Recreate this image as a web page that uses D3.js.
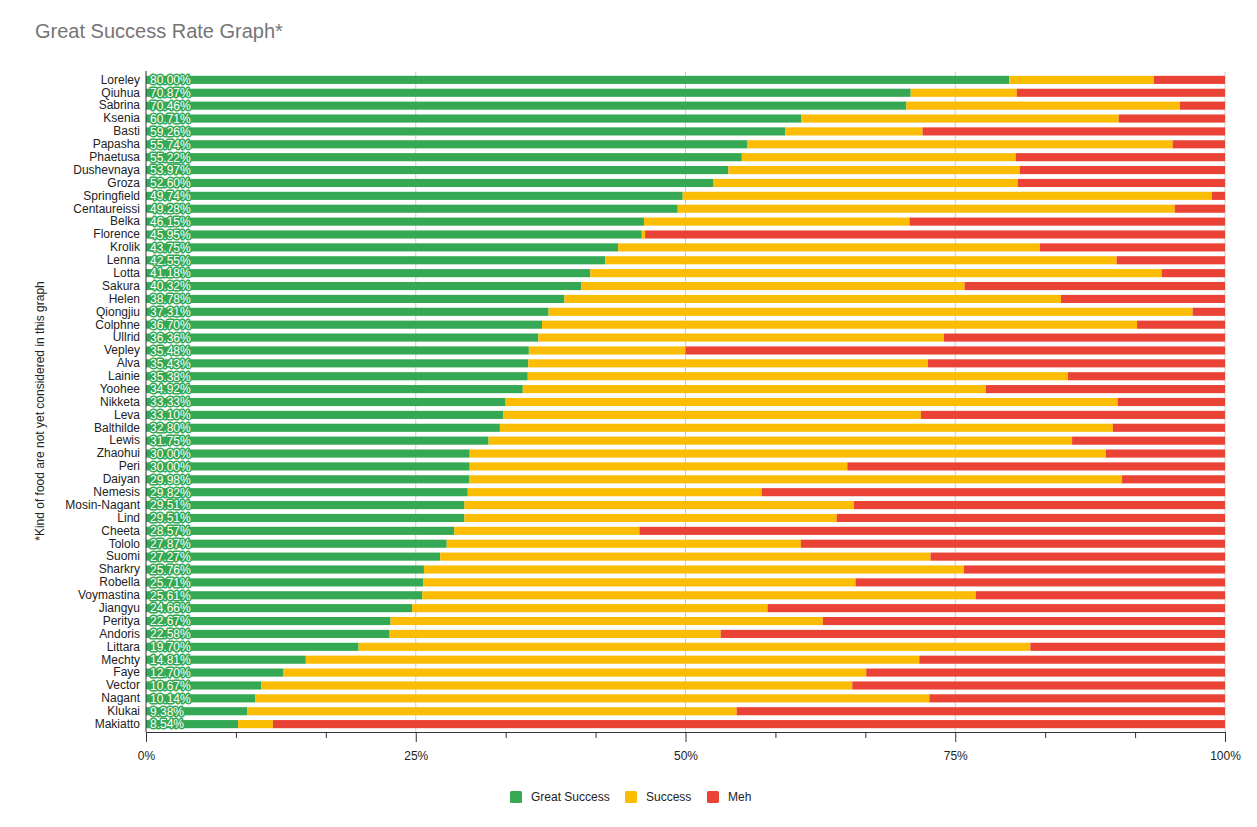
<!DOCTYPE html>
<html>
<head>
<meta charset="utf-8">
<script src="https://cdn.jsdelivr.net/npm/d3@7"></script>
<style>
  body { margin: 0; background: #fff; }
  svg { font-family: Arial, "Liberation Sans", sans-serif; }
  .axis path, .axis line { stroke: #333; }
  .axis text { fill: #222; font-size: 12px; }
</style>
</head>
<body>
<svg></svg>
<script>
// names, top to bottom
var names = ["Loreley", "Qiuhua", "Sabrina", "Ksenia", "Basti", "Papasha", "Phaetusa", "Dushevnaya",
	"Groza", "Springfield", "Centaureissi", "Belka", "Florence", "Krolik", "Lenna", "Lotta", "Sakura",
	"Helen", "Qiongjiu", "Colphne", "Ullrid", "Vepley", "Alva", "Lainie", "Yoohee", "Nikketa", "Leva",
	"Balthilde", "Lewis", "Zhaohui", "Peri", "Daiyan", "Nemesis", "Mosin-Nagant", "Lind", "Cheeta",
	"Tololo", "Suomi", "Sharkry", "Robella", "Voymastina", "Jiangyu", "Peritya", "Andoris", "Littara",
	"Mechty", "Faye", "Vector", "Nagant", "Klukai", "Makiatto"];

// percentages per series
var greatSuccess = [80.00, 70.87, 70.46, 60.71, 59.26, 55.74, 55.22, 53.97, 52.60, 49.74, 49.28, 46.15,
	45.95, 43.75, 42.55, 41.18, 40.32, 38.78, 37.31, 36.70, 36.36, 35.48, 35.43, 35.38, 34.92, 33.33,
	33.10, 32.80, 31.75, 30.00, 30.00, 29.98, 29.82, 29.51, 29.51, 28.57, 27.87, 27.27, 25.76, 25.71,
	25.61, 24.66, 22.67, 22.58, 19.70, 14.81, 12.70, 10.67, 10.14, 9.38, 8.54];
var success = [13.40, 9.83, 25.37, 29.44, 12.71, 39.41, 25.38, 27.01, 28.20, 49.05, 46.06, 24.61,
	0.30, 39.09, 47.41, 52.95, 35.55, 46.02, 59.69, 55.15, 37.60, 14.52, 37.04, 50.06, 42.91, 56.73,
	38.72, 56.81, 54.08, 58.97, 35.00, 60.48, 27.24, 36.10, 34.51, 17.16, 32.82, 45.44, 50.04, 40.05,
	51.28, 32.94, 40.06, 30.68, 62.26, 56.86, 54.05, 54.79, 62.46, 45.36, 3.22];
var meh = [6.60, 19.30, 4.17, 9.85, 28.03, 4.85, 19.40, 19.02, 19.20, 1.21, 4.66, 29.24,
	53.75, 17.16, 10.04, 5.87, 24.13, 15.20, 3.00, 8.15, 26.04, 50.00, 27.53, 14.56, 22.17, 9.94,
	28.18, 10.39, 14.17, 11.03, 35.00, 9.54, 42.94, 34.39, 35.98, 54.27, 39.31, 27.29, 24.20, 34.24,
	23.11, 42.40, 37.27, 46.74, 18.04, 28.33, 33.25, 34.54, 27.40, 45.26, 88.24];

var seriesNames = ["Great Success", "Success", "Meh"];
var seriesKeys = ["great", "success", "meh"];
var colors = ["#34a853", "#fbbc04", "#ea4335"];
var majorTicks = [0, 25, 50, 75, 100];
var minorTicks = [100 / 12, 200 / 12, 400 / 12, 500 / 12, 700 / 12, 800 / 12, 1000 / 12, 1100 / 12];

var svgWidth = 1257, svgHeight = 827;
var plotLeft = 146, plotRight = 1225, plotTop = 72, plotBottom = 732;

var svg = d3.select("svg")
	.attr("width", svgWidth)
	.attr("height", svgHeight);

var rows = names.map(function(n, i) {
	return { name: n, great: greatSuccess[i], success: success[i], meh: meh[i] };
});

var xScale = d3.scaleLinear()
	.domain([0, 100])
	.range([plotLeft, plotRight]);

var yScale = d3.scaleBand()
	.domain(names)
	.range([plotTop + 1.5, plotBottom - 1.5])
	.paddingInner(0.37)
	.paddingOuter(0.18);

// title
svg.append("text")
	.attr("x", 35)
	.attr("y", 38)
	.attr("font-size", 20)
	.attr("fill", "#757575")
	.text("Great Success Rate Graph*");

// gridlines
svg.append("g")
	.selectAll("line")
	.data(majorTicks.slice(1))
	.enter()
	.append("line")
	.attr("x1", function(d) { return xScale(d); })
	.attr("x2", function(d) { return xScale(d); })
	.attr("y1", plotTop)
	.attr("y2", plotBottom)
	.attr("stroke", "#cccccc")
	.attr("stroke-width", 1);

// stacked bars
var stack = d3.stack().keys(seriesKeys);
var layers = stack(rows);

svg.append("g")
	.selectAll("g")
	.data(layers)
	.enter()
	.append("g")
	.attr("fill", function(d, i) { return colors[i]; })
	.selectAll("rect")
	.data(function(d) { return d; })
	.enter()
	.append("rect")
	.attr("x", function(d) { return xScale(d[0]); })
	.attr("width", function(d) { return xScale(d[1]) - xScale(d[0]); })
	.attr("y", function(d) { return yScale(d.data.name); })
	.attr("height", yScale.bandwidth());

// data labels for great success
svg.append("g")
	.selectAll("text")
	.data(rows)
	.enter()
	.append("text")
	.attr("x", plotLeft + 4)
	.attr("y", function(d) { return yScale(d.name) + yScale.bandwidth() / 2; })
	.attr("dy", "0.36em")
	.attr("font-size", 12)
	.attr("fill", "#ffffff")
	.attr("stroke", colors[0])
	.attr("stroke-width", 3)
	.attr("stroke-linejoin", "round")
	.attr("paint-order", "stroke")
	.text(function(d) { return d.great.toFixed(2) + "%"; });

// x axis with major and minor ticks
svg.append("g")
	.attr("class", "axis")
	.attr("transform", "translate(0," + plotBottom + ")")
	.call(d3.axisBottom(xScale).tickValues(minorTicks).tickSize(6).tickFormat(""))
	.select(".domain").remove();

svg.append("g")
	.attr("class", "axis")
	.attr("transform", "translate(0," + plotBottom + ")")
	.call(d3.axisBottom(xScale)
		.tickValues(majorTicks)
		.tickSize(10)
		.tickSizeOuter(0)
		.tickPadding(9)
		.tickFormat(function(d) { return d + "%"; }));

// y axis
var yAxis = svg.append("g")
	.attr("class", "axis")
	.attr("transform", "translate(" + plotLeft + ",0)")
	.call(d3.axisLeft(yScale).tickSize(0).tickPadding(6));
yAxis.select(".domain")
	.attr("d", "M0," + (plotTop - 1) + "V" + plotBottom);

// y axis title
svg.append("text")
	.attr("transform", "translate(44,411) rotate(-90)")
	.attr("text-anchor", "middle")
	.attr("font-size", 12)
	.attr("fill", "#222")
	.text("*Kind of food are not yet considered in this graph");

// legend
var legendX = [510, 625, 707];
var legend = svg.append("g")
	.selectAll("g")
	.data(seriesNames)
	.enter()
	.append("g")
	.attr("transform", function(d, i) { return "translate(" + legendX[i] + ",791)"; });

legend.append("rect")
	.attr("width", 12)
	.attr("height", 12)
	.attr("rx", 1.5)
	.attr("fill", function(d, i) { return colors[i]; });

legend.append("text")
	.attr("x", 21)
	.attr("y", 6)
	.attr("dy", "0.36em")
	.attr("font-size", 12)
	.attr("fill", "#222")
	.text(function(d) { return d; });
</script>
</body>
</html>
